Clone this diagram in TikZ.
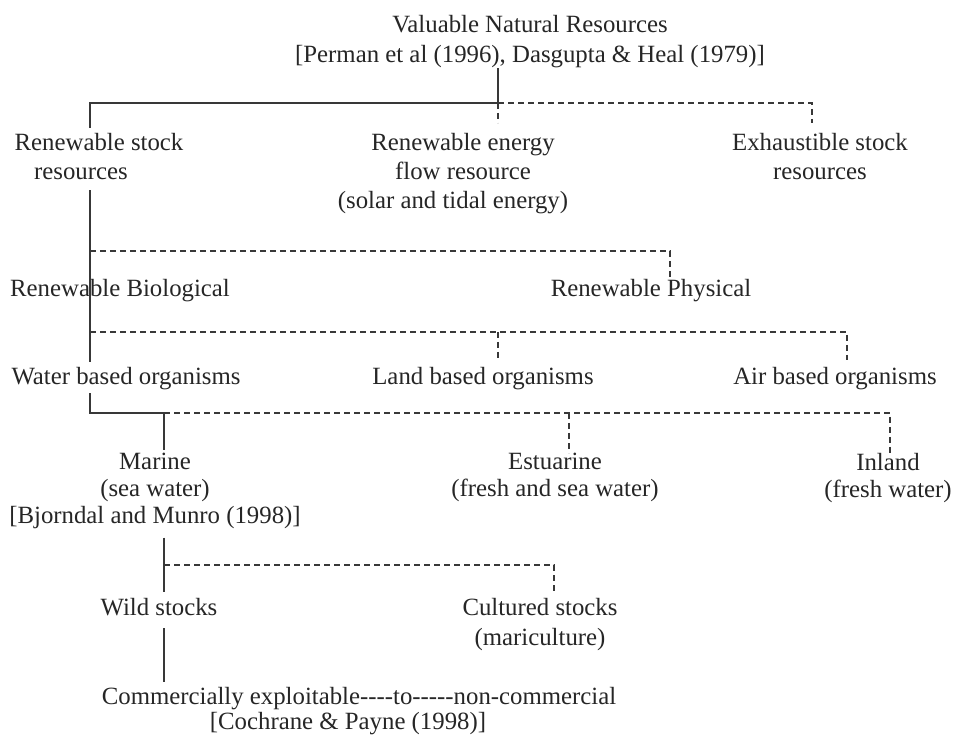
\documentclass[tikz,border=0pt]{standalone}
\usepackage{fontspec}
\setmainfont{Liberation Serif}
\begin{document}
\begin{tikzpicture}[x=0.5pt,y=-0.5pt,
  lbl/.style={inner sep=0pt, anchor=north, align=center, text=black!85,
              font=\fontsize{12.4}{14.5}\selectfont},
  solidln/.style={draw=black!78, line width=1pt},
  dashln/.style={draw=black!78, line width=0.9pt, dash pattern=on 3pt off 2pt}]
\useasboundingbox (0,0) rectangle (955,738);
\fill[white] (0,0) rectangle (955,738);

% ---- labels -------------------------------------------------------
\node[lbl, font=\fontsize{12.4}{15}\selectfont] (top) at (530,15)
  {Valuable Natural Resources\\{[}Perman et al (1996), Dasgupta \& Heal (1979)]};

\node[lbl] (rstock) at (99,133) {Renewable stock\\resources\hspace*{18pt}};
\node[lbl] (reflow) at (463,133) {Renewable energy\\flow resource\\(solar and tidal energy)\hspace*{10pt}};
\node[lbl] (exh)    at (820,133) {Exhaustible stock\\resources};

\node[lbl] (rbio)  at (120,279) {Renewable Biological};
\node[lbl] (rphys) at (651,279) {Renewable Physical};

\node[lbl] (water) at (126,367) {Water based organisms};
\node[lbl] (land)  at (483,367) {Land based organisms};
\node[lbl] (air)   at (835,367) {Air based organisms};

\node[lbl, font=\fontsize{12.4}{13.5}\selectfont] (marine) at (155,453)
  {Marine\\(sea water)\\{[}Bjorndal and Munro (1998)]};
\node[lbl, font=\fontsize{12.4}{13.5}\selectfont] (estu)   at (555,453)
  {Estuarine\\(fresh and sea water)};
\node[lbl, font=\fontsize{12.4}{13.5}\selectfont] (inland) at (888,453)
  {Inland\\(fresh water)};

\node[lbl] (wild) at (159,598) {Wild stocks};
\node[lbl, font=\fontsize{12.4}{15}\selectfont] (cult) at (540,598)
  {Cultured stocks\\(mariculture)};

\node[lbl] (comm)    at (359,687) {Commercially exploitable-{}-{}-{}-to-{}-{}-{}-{}-non-commercial};
\node[lbl] (commref) at (348,712) {[Cochrane \& Payne (1998)]};

% ---- branch points ------------------------------------------------
\coordinate (a1) at (90,103);
\coordinate (a2) at (498,103);
\coordinate (a3) at (812,103);
\coordinate (b1) at (90,251);
\coordinate (b2) at (670,251);
\coordinate (c1) at (90,332);
\coordinate (c2) at (498,332);
\coordinate (c3) at (847,332);
\coordinate (d1) at (90,413);
\coordinate (d2) at (164,413);
\coordinate (d3) at (569,413);
\coordinate (d4) at (890,413);
\coordinate (e1) at (164,565);
\coordinate (e2) at (554,565);

% ---- level 1 ------------------------------------------------------
\draw[solidln, shorten >=2.5pt] (a2 |- top.south) -- (a2) -- (a1) -- (a1 |- rstock.north);
\draw[dashln, shorten >=5pt] (a2) -- (a3) -- (a3 |- exh.north);
\draw[dashln, shorten >=5pt] (a2) -- (a2 |- reflow.north);

% ---- level 2 ------------------------------------------------------
\draw[solidln, shorten <=5pt, shorten >=2.5pt] (a1 |- rstock.south) -- (a1 |- water.north);
\draw[dashln, shorten >=0.5pt] (b1) -- (b2) -- (b2 |- rphys.north);

% ---- level 3 ------------------------------------------------------
\draw[dashln, shorten >=3.5pt] (c1) -- (c3) -- (c3 |- air.north);
\draw[dashln, shorten >=3.5pt] (c2) -- (c2 |- land.north);

% ---- level 4 ------------------------------------------------------
\draw[solidln, shorten <=1.5pt, shorten >=1.5pt] (d1 |- water.south) -- (d1) -- (d2) -- (d2 |- marine.north);
\draw[dashln] (d2) -- (d4) -- (d4 |- inland.north);
\draw[dashln] (d3) -- (d3 |- estu.north);

% ---- level 5 ------------------------------------------------------
\draw[solidln, shorten <=4pt, shorten >=3pt] (e1 |- marine.south) -- (e1 |- wild.north);
\draw[dashln, shorten >=2.5pt] (e1) -- (e2) -- (e2 |- cult.north);

% ---- level 6 ------------------------------------------------------
\draw[solidln, shorten <=6pt, shorten >=2.5pt] (e1 |- wild.south) -- (e1 |- comm.north);
\end{tikzpicture}
\end{document}
